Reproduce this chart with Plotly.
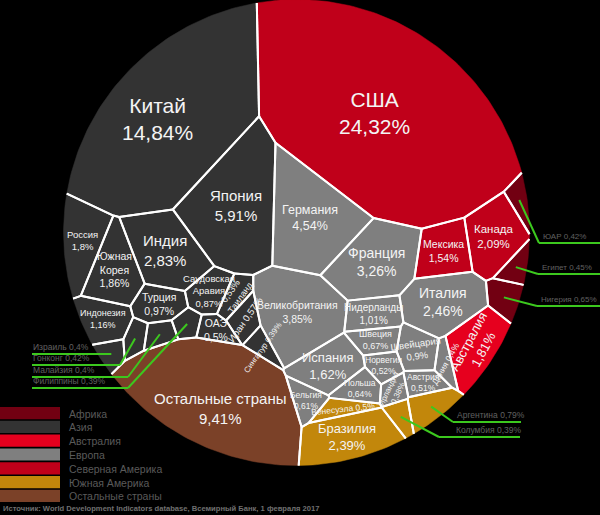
import numpy as np
import plotly.graph_objects as go

# ---------------- data ----------------
countries = ["США", "Канада", "Мексика",
             "Китай", "Япония", "Индия", "Южная Корея", "Россия", "Индонезия", "Турция",
             "Саудовская Аравия", "Иран", "Таиланд", "ОАЭ", "Сингапур", "Израиль", "Гонконг",
             "Малайзия", "Филиппины",
             "Германия", "Великобритания", "Франция", "Италия", "Испания", "Нидерланды",
             "Швейцария", "Швеция", "Польша", "Бельгия", "Норвегия", "Австрия", "Дания", "Ирландия",
             "Бразилия", "Аргентина", "Венесуэла", "Колумбия",
             "Австралия",
             "Нигерия", "Египет", "ЮАР",
             "Остальные страны"]
country_region = (["Северная Америка"] * 3 + ["Азия"] * 16 + ["Европа"] * 14 +
                  ["Южная Америка"] * 4 + ["Австралия"] + ["Африка"] * 3 + ["Остальные страны"])
gdp_share = [24.32, 2.09, 1.54,
             14.84, 5.91, 2.83, 1.86, 1.8, 1.16, 0.97, 0.87, 0.57, 0.53, 0.5, 0.39, 0.4, 0.42, 0.4, 0.39,
             4.54, 3.85, 3.26, 2.46, 1.62, 1.01, 0.9, 0.67, 0.64, 0.61, 0.52, 0.51, 0.4, 0.38,
             2.39, 0.79, 0.5, 0.39,
             1.81,
             0.65, 0.45, 0.42,
             9.41]
legend_regions = ["Африка", "Азия", "Австралия", "Европа", "Северная Америка", "Южная Америка",
                  "Остальные страны"]
source_text = "Источник: World Development Indicators database, Всемирный Банк, 1 февраля 2017"

# ---------------- styles / layout hints ----------------
REGION_COLOR = {
    "Африка": "#720012", "Азия": "#333333", "Австралия": "#e6001e", "Европа": "#7f7f7f",
    "Северная Америка": "#c0001a", "Южная Америка": "#c2870b", "Остальные страны": "#7b4128",
}
CX, CY, R = 296.5, 232.5, 233.0
# initial generator points of the Voronoi (power-diagram) treemap
SITES = {
    "США": (395, 95), "Канада": (485, 232), "Мексика": (433, 240),
    "Китай": (150, 100), "Япония": (245, 188), "Индия": (170, 243), "Южная Корея": (110, 266),
    "Россия": (78, 253), "Индонезия": (100, 314), "Турция": (160, 298),
    "Саудовская Аравия": (208, 288), "Таиланд": (236, 300), "Иран": (248, 311),
    "Сингапур": (260, 322), "ОАЭ": (210, 336),
    "Израиль": (104, 337), "Гонконг": (145, 334), "Малайзия": (165, 337), "Филиппины": (185, 330),
    "Германия": (322, 190), "Великобритания": (300, 300), "Франция": (365, 230), "Италия": (440, 298),
    "Испания": (337, 362), "Нидерланды": (373, 308), "Швейцария": (422, 338), "Швеция": (375, 330),
    "Польша": (351, 380), "Бельгия": (325, 388), "Норвегия": (378, 355), "Австрия": (423, 377),
    "Дания": (457, 343), "Ирландия": (393, 383),
    "Бразилия": (355, 440), "Аргентина": (428, 400), "Венесуэла": (348, 407), "Колумбия": (400, 405),
    "Австралия": (470, 340),
    "Нигерия": (508, 292), "Египет": (515, 260), "ЮАР": (518, 212),
    "Остальные страны": (195, 428),
}
# (font size, angle, mode)
STYLE = {
    "США": (21, 0, "two"), "Канада": (11.5, 0, "two"), "Мексика": (10.5, 0, "two"),
    "Китай": (21, 0, "two"), "Япония": (15, 0, "two"), "Индия": (15, 0, "two"),
    "Южная Корея": (10.5, 0, "split"), "Россия": (9.5, 0, "two"), "Индонезия": (9, 0, "two"),
    "Турция": (10.5, 0, "two"), "Саудовская Аравия": (9.5, 0, "split"), "Иран": (9.5, -55, "one"),
    "Таиланд": (9, -55, "rev"), "ОАЭ": (10.5, 0, "two"), "Сингапур": (8, -55, "one"),
    "Германия": (12.5, 0, "two"), "Великобритания": (10.5, 0, "two"), "Франция": (14, 0, "two"),
    "Италия": (14, 0, "two"), "Испания": (13, 0, "two"), "Нидерланды": (10, 0, "two"),
    "Швейцария": (9.5, -8, "two"), "Швеция": (9, 0, "two"), "Польша": (8.5, 0, "two"),
    "Бельгия": (8.5, 0, "two"), "Норвегия": (8.5, 0, "two"), "Австрия": (8.5, 0, "two"),
    "Дания": (8.5, -60, "one"), "Ирландия": (8, -65, "two"),
    "Бразилия": (13, 0, "two"), "Венесуэла": (8.5, -6, "one"),
    "Австралия": (13, -62, "two"), "Остальные страны": (15, 0, "two"),
}
LABEL_SHIFT = {"Китай": (-14, 2), "Остальные страны": (2, 10), "США": (-5, 0)}
# outside labels: (underline x0, underline x1, underline y, text x, joint x, font size)
OUTSIDE = {
    "Израиль": (32, 90, 354, 32, 90, 8.5), "Гонконг": (32, 120, 365, 32, 120, 8.5),
    "Малайзия": (32, 128, 377, 32, 128, 8.5), "Филиппины": (32, 128, 388, 32, 128, 8.5),
    "ЮАР": (539, 600, 243, 542, 539, 8), "Египет": (538, 600, 274, 541, 538, 8),
    "Нигерия": (537, 600, 306, 540, 537, 8),
    "Аргентина": (453, 521, 422, 456, 453, 8.5), "Колумбия": (439, 520, 437, 455, 439, 8.5),
}
GREEN = "#3cc81e"
FONT = "Liberation Sans, Arial, sans-serif"


def fmt(v):
    return f"{v:g}".replace(".", ",") + "%"


# ---------------- power-diagram (Voronoi treemap) computation ----------------
S = len(countries)
sites = np.array([SITES[n] for n in countries], float)
vals = np.array(gdp_share, float)

step = 2.0
g = np.arange(-R + step / 2, R, step)
GX, GY = np.meshgrid(CX + g, CY + g)
inside = (GX - CX) ** 2 + (GY - CY) ** 2 <= R * R
px, py = GX[inside], GY[inside]
base = ((px[:, None] - sites[None, :, 0]) ** 2 + (py[:, None] - sites[None, :, 1]) ** 2).astype(np.float32)
cellA = step * step
target = vals / vals.sum() * inside.sum() * cellA
w = np.zeros(S, np.float32)
for it in range(900):
    lab = np.argmin(base - w[None, :], axis=1)
    area = np.bincount(lab, minlength=S) * cellA
    w += (0.3 * (target - area)).astype(np.float32)
w = w.astype(float)

NC = 360
th = np.linspace(0, 2 * np.pi, NC, endpoint=False)
circle = [(CX + R * np.cos(t), CY + R * np.sin(t)) for t in th]


def clip(poly, a, b, c):
    out = []
    n = len(poly)
    for k in range(n):
        P, Q = poly[k], poly[(k + 1) % n]
        fp = a * P[0] + b * P[1] - c
        fq = a * Q[0] + b * Q[1] - c
        if fp <= 0:
            out.append(P)
        if (fp <= 0) != (fq <= 0):
            t = fp / (fp - fq)
            out.append((P[0] + t * (Q[0] - P[0]), P[1] + t * (Q[1] - P[1])))
    return out


def centroid(poly, fallback):
    if len(poly) < 3:
        return tuple(fallback)
    P = np.array(poly)
    x, y = P[:, 0], P[:, 1]
    x2, y2 = np.roll(x, -1), np.roll(y, -1)
    cr = x * y2 - x2 * y
    A = cr.sum() / 2
    if abs(A) < 1e-9:
        return (x.mean(), y.mean())
    return (((x + x2) * cr).sum() / (6 * A), ((y + y2) * cr).sum() / (6 * A))


polys, cents = [], []
for i in range(S):
    pi = sites[i]
    order = np.argsort(((sites - pi) ** 2).sum(1))
    poly = circle
    for j in order:
        if j == i:
            continue
        pj = sites[j]
        a, b = 2 * (pj - pi)
        c = pj @ pj - pi @ pi - w[j] + w[i]
        poly = clip(poly, a, b, c)
        if not poly:
            break
    polys.append(poly)
    cents.append(centroid(poly, pi))

# ---------------- figure ----------------
fig = go.Figure()
chord = 2 * R * np.sin(np.pi / NC) + 0.2
ex, ey = [], []
for i, poly in enumerate(polys):
    if len(poly) < 3:
        continue
    col = REGION_COLOR[country_region[i]]
    xs = [p[0] for p in poly] + [poly[0][0]]
    ys = [p[1] for p in poly] + [poly[0][1]]
    fig.add_trace(go.Scatter(x=xs, y=ys, mode="lines", fill="toself", fillcolor=col,
                             line=dict(color=col, width=0.5), hoverinfo="skip", showlegend=False))
    for k in range(len(poly)):
        P, Q = poly[k], poly[(k + 1) % len(poly)]
        rp = np.hypot(P[0] - CX, P[1] - CY)
        rq = np.hypot(Q[0] - CX, Q[1] - CY)
        L = np.hypot(Q[0] - P[0], Q[1] - P[1])
        if rp > R - 0.05 and rq > R - 0.05 and L < chord:
            continue
        ex += [P[0], Q[0], None]
        ey += [P[1], Q[1], None]
fig.add_trace(go.Scatter(x=ex, y=ey, mode="lines", line=dict(color="white", width=2),
                         hoverinfo="skip", showlegend=False))

ann = []
lx, ly = [], []
for i, n in enumerate(countries):
    v = gdp_share[i]
    if n in OUTSIDE:
        x0, x1, yl, tx, jx, fs = OUTSIDE[n]
        cxp, cyp = cents[i]
        lx += [cxp, jx, None, x0, x1, None]
        ly += [cyp, yl, None, yl, yl, None]
        ann.append(dict(x=tx, y=yl - 1, text=f"{n} {fmt(v)}", xanchor="left", yanchor="bottom",
                        showarrow=False, borderpad=0,
                        font=dict(family=FONT, size=fs, color="#616161")))
        continue
    size, ang, mode = STYLE[n]
    if mode == "two":
        t = f"{n}<br>{fmt(v)}"
    elif mode == "split":
        t = n.replace(" ", "<br>") + "<br>" + fmt(v)
    elif mode == "rev":
        t = f"{fmt(v)}<br>{n}"
    else:
        t = f"{n} {fmt(v)}"
    dx, dy = LABEL_SHIFT.get(n, (0, 0))
    ann.append(dict(x=cents[i][0] + dx, y=cents[i][1] + dy, text=t, showarrow=False, textangle=ang,
                    xanchor="center", yanchor="middle",
                    font=dict(family=FONT, size=size, color="#f4f4f4")))
fig.add_trace(go.Scatter(x=lx, y=ly, mode="lines", line=dict(color=GREEN, width=2),
                         hoverinfo="skip", showlegend=False))

shapes = []
for k, r in enumerate(legend_regions):
    y0 = 407 + k * 13.8
    shapes.append(dict(type="rect", xref="x", yref="y", x0=0, x1=60, y0=y0, y1=y0 + 12.2,
                       fillcolor=REGION_COLOR[r], line=dict(width=0), layer="above"))
    ann.append(dict(x=67, y=y0 + 6.5, text=r, xanchor="left", yanchor="middle", showarrow=False,
                    font=dict(family=FONT, size=10.5, color="#5a5a5a")))
ann.append(dict(x=1, y=508, text=f"<b>{source_text}</b>", xanchor="left", yanchor="middle",
                showarrow=False, font=dict(family=FONT, size=7.6, color="#707070")))

fig.update_layout(
    width=600, height=515, margin=dict(l=0, r=0, t=0, b=0),
    paper_bgcolor="black", plot_bgcolor="black",
    xaxis=dict(range=[0, 600], visible=False, fixedrange=True),
    yaxis=dict(range=[515, 0], visible=False, fixedrange=True),
    annotations=ann, shapes=shapes, showlegend=False,
)
fig.write_html("out.html")
